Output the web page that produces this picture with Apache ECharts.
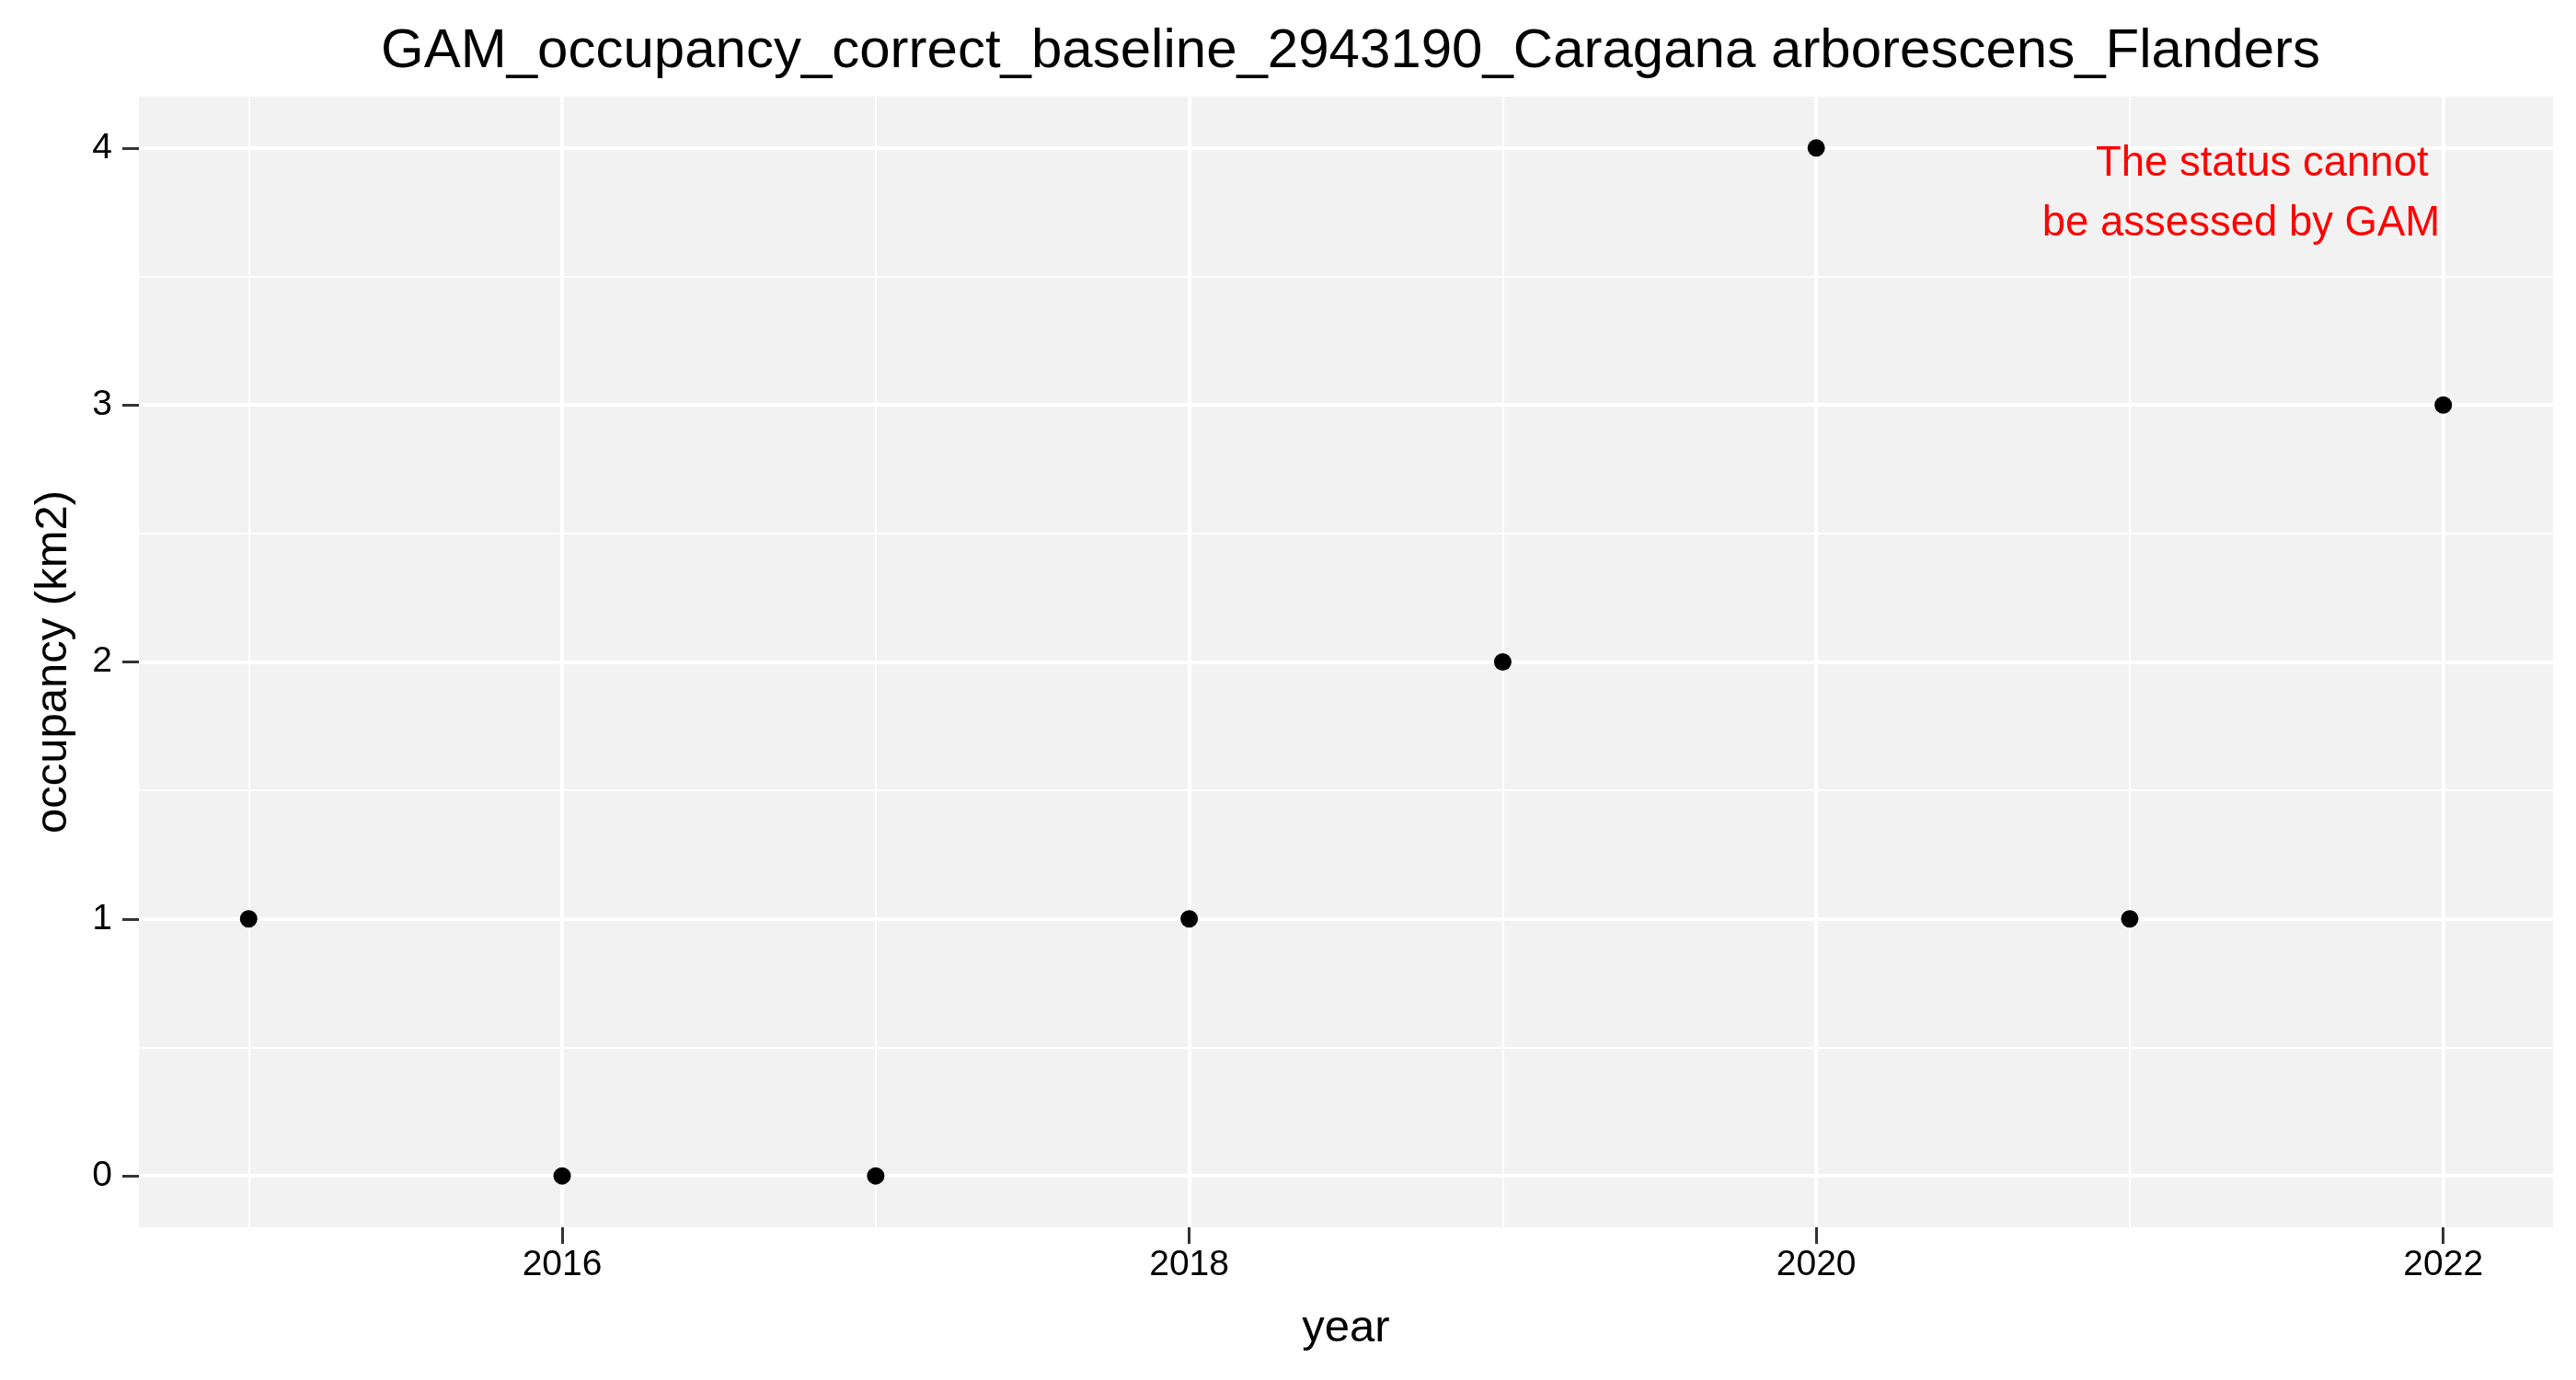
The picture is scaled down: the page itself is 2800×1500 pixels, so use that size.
<!DOCTYPE html>
<html>
<head>
<meta charset="utf-8">
<title>GAM occupancy</title>
<script src="https://cdn.jsdelivr.net/npm/echarts@6/dist/echarts.min.js"></script>
<style>
  html, body { margin: 0; padding: 0; background: #fff; }
  #chart { width: 2800px; height: 1500px; }
</style>
</head>
<body>
<div id="chart"></div>
<script>
// data
let years = [2015, 2016, 2017, 2018, 2019, 2020, 2021, 2022];
let occupancy = [1, 0, 0, 1, 2, 4, 1, 3];
let xTicks = [2016, 2018, 2020, 2022];
let yTicks = [0, 1, 2, 3, 4];
let noteText = 'The status cannot \nbe assessed by GAM';
let notePos = [2022, 4];

let font = 'Liberation Sans, Arial, Helvetica, sans-serif';

let dom = document.getElementById('chart');
let myChart = echarts.init(dom);

let points = years.map(function (y, i) { return [y, occupancy[i]]; });

let option = {
    backgroundColor: '#ffffff',
    animation: false,
    title: {
        text: 'GAM_occupancy_correct_baseline_2943190_Caragana arborescens_Flanders',
        left: 1463,
        top: 21,
        textAlign: 'center',
        textStyle: {
            fontFamily: font,
            fontSize: 60,
            fontWeight: 'normal',
            color: '#000'
        }
    },
    grid: {
        left: 151,
        right: 25,
        top: 105,
        bottom: 166,
        show: true,
        backgroundColor: '#F2F2F2',
        borderWidth: 0,
        containLabel: false,
        outerBoundsMode: 'none'
    },
    xAxis: {
        type: 'value',
        min: 2014.65,
        max: 2022.35,
        name: 'year',
        nameLocation: 'middle',
        nameGap: 86,
        nameTextStyle: { fontFamily: font, fontSize: 49, color: '#000' },
        axisLine: { show: false, onZero: false },
        axisTick: {
            show: true,
            length: 18,
            customValues: xTicks,
            lineStyle: { color: '#333', width: 3 }
        },
        axisLabel: {
            customValues: xTicks,
            margin: 22,
            fontFamily: font,
            fontSize: 39,
            color: '#000',
            formatter: function (v) { return String(v); }
        },
        splitLine: { show: true, lineStyle: { color: '#fff', width: 4 } },
        minorTick: { show: false, splitNumber: 2 },
        minorSplitLine: { show: true, lineStyle: { color: '#fff', width: 2 } }
    },
    yAxis: {
        type: 'value',
        min: -0.2,
        max: 4.2,
        name: 'occupancy (km2)',
        nameLocation: 'middle',
        nameGap: 68,
        nameRotate: 90,
        nameTextStyle: { fontFamily: font, fontSize: 49, color: '#000' },
        axisLine: { show: false, onZero: false },
        axisTick: {
            show: true,
            length: 18,
            customValues: yTicks,
            lineStyle: { color: '#333', width: 3 }
        },
        axisLabel: {
            customValues: yTicks,
            margin: 29,
            fontFamily: font,
            fontSize: 39,
            color: '#000'
        },
        splitLine: { show: true, lineStyle: { color: '#fff', width: 4 } },
        minorTick: { show: false, splitNumber: 2 },
        minorSplitLine: { show: true, lineStyle: { color: '#fff', width: 2 } }
    },
    series: [
        {
            name: 'occupancy',
            type: 'scatter',
            data: points,
            symbol: 'circle',
            symbolSize: 19,
            itemStyle: { color: '#000', opacity: 1 },
            silent: true
        },
        {
            name: 'note',
            type: 'scatter',
            data: [notePos],
            symbolSize: 1,
            itemStyle: { color: 'transparent', opacity: 1 },
            silent: true,
            label: {
                show: true,
                position: [0, 0],
                align: 'right',
                verticalAlign: 'top',
                offset: [-3, -14],
                formatter: noteText,
                fontFamily: font,
                fontSize: 45.5,
                lineHeight: 65,
                color: '#FF0000',
                opacity: 1
            }
        }
    ]
};

if (option && typeof option === 'object') {
    myChart.setOption(option, true);
    window.addEventListener('resize', function () {
        myChart.resize();
    });
}
</script>
</body>
</html>
